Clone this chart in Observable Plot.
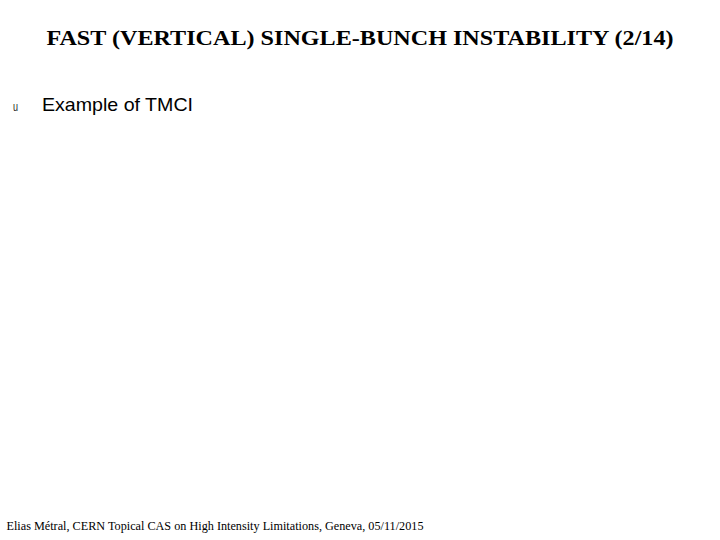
<!DOCTYPE html>
<html>
<head>
<meta charset="utf-8">
<script src="https://cdn.jsdelivr.net/npm/d3@7"></script>
<script src="https://cdn.jsdelivr.net/npm/@observablehq/plot@0.6"></script>
<style>
  html, body { margin: 0; padding: 0; background: #fff; }
  #chart { width: 720px; height: 540px; overflow: hidden; }
</style>
</head>
<body>
<div id="chart"></div>
<script>
// Slide content (no plotted data on this slide)
const titleText = ["FAST (VERTICAL) SINGLE-BUNCH INSTABILITY (2/14)"];
const bulletMarks = ["u"];
const bulletTexts = ["Example of TMCI"];
const footerText = ["Elias Métral, CERN Topical CAS on High Intensity Limitations, Geneva, 05/11/2015"];

const W = 720, H = 540;
const chart = Plot.plot({
  width: W,
  height: H,
  margin: 0,
  x: {domain: [0, W], axis: null},
  y: {domain: [0, H], axis: null, reverse: true},
  style: {background: "#fff"},
  marks: [
    Plot.text(titleText, {
      x: () => 46, y: () => 37, text: d => d,
      fontFamily: "Liberation Serif", fontWeight: "bold", fontSize: 22,
      fill: "#000", textAnchor: "start", lineAnchor: "middle"
    }),
    Plot.text(bulletMarks, {
      x: () => 12.5, y: () => 106, text: d => d,
      fontFamily: "Liberation Sans", fontSize: 12.5,
      fill: "#222", textAnchor: "start", lineAnchor: "middle"
    }),
    Plot.text(bulletTexts, {
      x: () => 41.5, y: () => 104.8, text: d => d,
      fontFamily: "Liberation Sans", fontSize: 18.5,
      fill: "#000", textAnchor: "start", lineAnchor: "middle"
    }),
    Plot.text(footerText, {
      x: () => 6, y: () => 525.6, text: d => d,
      fontFamily: "Liberation Serif", fontSize: 11.5,
      fill: "#000", textAnchor: "start", lineAnchor: "middle"
    })
  ]
});
// condense title / footer / bullet text to the widths of the reference
const texts = chart.querySelectorAll("text");
document.getElementById("chart").appendChild(chart);
texts.forEach(t => {
  const s = t.textContent;
  if (s === titleText[0]) { t.setAttribute("textLength", 627); t.setAttribute("lengthAdjust", "spacingAndGlyphs"); }
  if (s === footerText[0]) { t.setAttribute("textLength", 417); t.setAttribute("lengthAdjust", "spacingAndGlyphs"); }
  if (s === bulletTexts[0]) { t.setAttribute("textLength", 151); t.setAttribute("lengthAdjust", "spacingAndGlyphs"); }
  if (s === bulletMarks[0]) { t.setAttribute("textLength", 5); t.setAttribute("lengthAdjust", "spacingAndGlyphs"); }
});
</script>
</body>
</html>
